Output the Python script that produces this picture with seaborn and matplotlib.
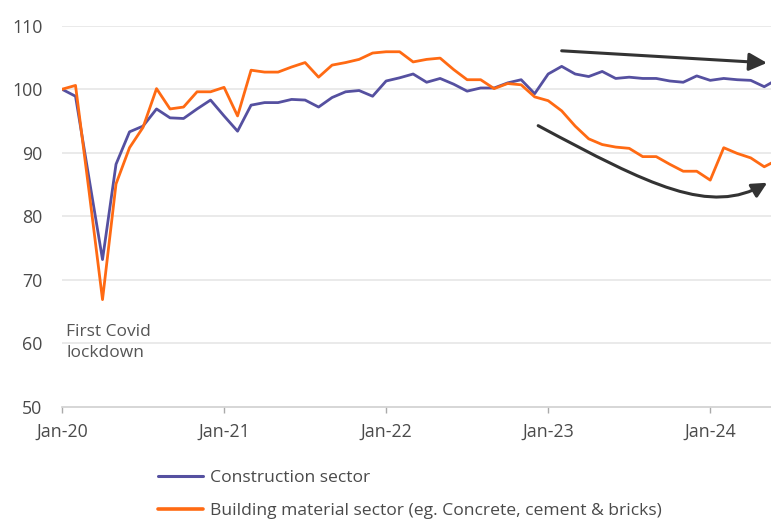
import numpy as np
import pandas as pd
import matplotlib
matplotlib.use("Agg")
import matplotlib.pyplot as plt
import seaborn as sns
from matplotlib.patches import FancyArrowPatch
from matplotlib.path import Path
from matplotlib.lines import Line2D

# ---- data (monthly index, Jan-20 = 0) ----
months = list(range(0, 54))
construction = [100.0, 98.9, 86.0, 73.2, 88.2, 93.3, 94.2, 96.9, 95.5, 95.4, 96.9, 98.3,
                95.8, 93.4, 97.5, 97.9, 97.9, 98.4, 98.3, 97.2, 98.7, 99.6, 99.8, 98.9,
                101.3, 101.8, 102.4, 101.1, 101.7, 100.8, 99.7, 100.2, 100.2, 101.0, 101.5, 99.3,
                102.4, 103.6, 102.4, 102.0, 102.8, 101.7, 101.9, 101.7, 101.7, 101.3, 101.1, 102.1,
                101.4, 101.7, 101.5, 101.4, 100.4, 101.6]
building_material = [100.0, 100.6, 84.0, 66.9, 85.1, 90.8, 94.0, 100.1, 96.9, 97.2, 99.6, 99.6,
                     100.3, 95.8, 103.0, 102.7, 102.7, 103.5, 104.2, 101.9, 103.8, 104.2, 104.7, 105.7,
                     105.9, 105.9, 104.3, 104.7, 104.9, 103.1, 101.5, 101.5, 100.1, 100.9, 100.7, 98.8,
                     98.2, 96.6, 94.2, 92.2, 91.3, 90.9, 90.7, 89.4, 89.4, 88.2, 87.1, 87.1,
                     85.7, 90.8, 89.9, 89.2, 87.8, 88.9]
series_names = ["Construction sector", "Building material sector (eg. Concrete, cement & bricks)"]
tick_pos = [0, 12, 24, 36, 48]
tick_labels = ["Jan-20", "Jan-21", "Jan-22", "Jan-23", "Jan-24"]
y_ticks = [50, 60, 70, 80, 90, 100, 110]

df = pd.DataFrame({
    "month": months * 2,
    "value": construction + building_material,
    "series": [series_names[0]] * len(months) + [series_names[1]] * len(months),
})

sns.set_theme(style="white")
plt.rcParams["font.family"] = ["Open Sans", "DejaVu Sans"]

PURPLE = "#5550a0"
ORANGE = "#ff6a13"
TXT = "#4a4a4a"

fig = plt.figure(figsize=(7.71, 5.23), dpi=100)
ax = fig.add_axes([62 / 771, 116 / 523, 1 - 62 / 771, (407 - 25.7) / 523])

sns.lineplot(data=df, x="month", y="value", hue="series",
             palette=[PURPLE, ORANGE], linewidth=2.0, ax=ax, legend=False)

ax.set_xlim(0, 52.5)
ax.set_ylim(50, 110)
ax.set_yticks(y_ticks)
ax.set_yticklabels([str(v) for v in y_ticks])
ax.set_xticks(tick_pos)
ax.set_xticklabels(tick_labels)
ax.set_xlabel("")
ax.set_ylabel("")
for v in y_ticks[1:]:
    ax.axhline(v, color="#e6e6e6", lw=1.2, zorder=0)
for s in ["top", "right", "left"]:
    ax.spines[s].set_visible(False)
ax.spines["bottom"].set_color("#d0d0d0")
ax.spines["bottom"].set_linewidth(1.2)
ax.tick_params(axis="x", length=4.5, width=1, color="#aaaaaa", pad=7,
               labelsize=12.8, labelcolor=TXT, direction="out", bottom=True)
ax.tick_params(axis="y", length=0, pad=14, labelsize=12.8, labelcolor=TXT)

ax.text(0.3, 63.0, "First Covid\nlockdown", fontsize=12.5, color="#555555",
        va="top", ha="left", linespacing=1.38)

# arrows
ax.annotate("", xy=(52.2, 104.15), xytext=(37.0, 106.05),
            arrowprops=dict(arrowstyle="-|>,head_length=0.9,head_width=0.45",
                            color="#333333", lw=2.2, shrinkA=0, shrinkB=0))
verts = [(35.26, 94.27), (43.56, 84.82), (48.0, 80.09), (52.22, 85.29)]
codes = [Path.MOVETO, Path.CURVE4, Path.CURVE4, Path.CURVE4]
arr = FancyArrowPatch(path=Path(verts, codes),
                      arrowstyle="-|>,head_length=0.9,head_width=0.45",
                      color="#333333", lw=2.2, mutation_scale=10,
                      transform=ax.transData, clip_on=False)
ax.add_patch(arr)

handles = [Line2D([0], [0], color=PURPLE, lw=2.2), Line2D([0], [0], color=ORANGE, lw=2.6)]
fig.legend(handles, series_names, loc="upper left", bbox_to_anchor=(142 / 771, 1 - 454 / 523),
           frameon=False, fontsize=12.6, handlelength=2.57, handletextpad=0.4,
           labelspacing=0.95, labelcolor=TXT)

fig.savefig("out.png", dpi=100)
